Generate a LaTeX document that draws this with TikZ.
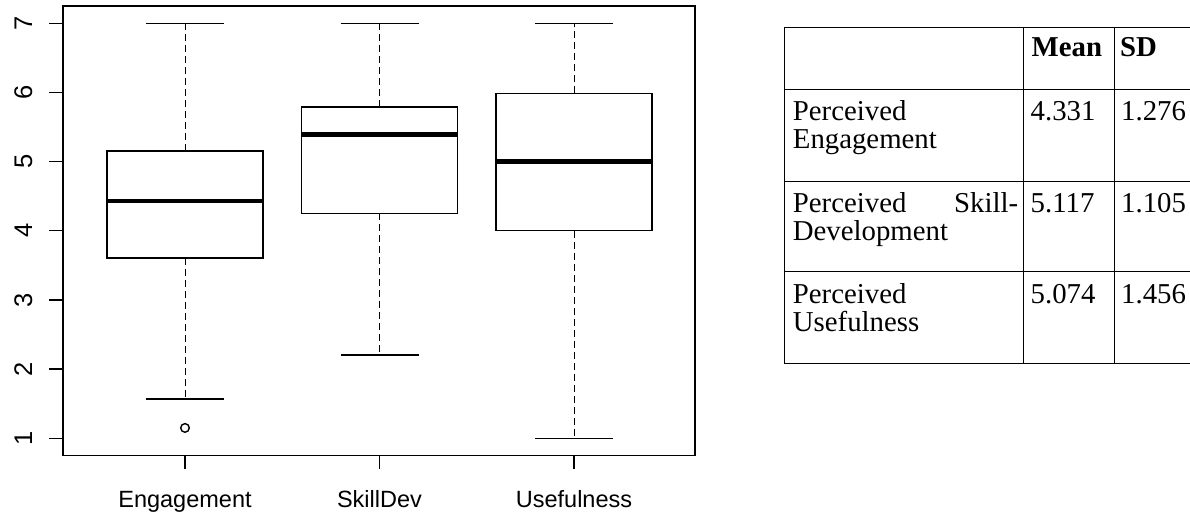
\documentclass[tikz,border=0pt]{standalone}
\usepackage{fontspec}
\newfontfamily\plotfont{Liberation Sans}
\newfontfamily\tabfont{Liberation Serif}
\tikzstyle{frame} = [line width=1.3pt]
\tikzstyle{iqrbox} = [line width=1.4pt]
\tikzstyle{median} = [line width=4.6pt]
\tikzstyle{whisker} = [line width=1pt, dash pattern=on 7pt off 4pt]
\tikzstyle{whiskerend} = [line width=1.3pt]
\tikzstyle{axislabel} = [font=\plotfont\fontsize{23.5}{28}\selectfont, inner sep=0pt]
\tikzstyle{ticklabel} = [font=\plotfont\fontsize{25.5}{28}\selectfont, inner sep=0pt, rotate=90, anchor=base]
\tikzstyle{tableline} = [line width=1pt]
\tikzstyle{cell} = [font=\tabfont\fontsize{28.8}{30}\selectfont, anchor=base west, inner sep=0pt]
\begin{document}
\begin{tikzpicture}[x=1pt, y=-1pt]
            \useasboundingbox (0,0) rectangle (1190,516);
            % plot frame and x axis (pixel units)
            \draw [frame] (63,6) rectangle (695,455.5);
            \draw [frame] (185,455.5) -- (185,469);
            \draw [frame] (379.5,455.5) -- (379.5,469);
            \draw [frame] (574,455.5) -- (574,469);
            \node [axislabel, anchor=base] at (185,507.3) (xeng) {Engagement};
            \node [axislabel, anchor=base] at (379.5,507.3) (xskill) {SkillDev};
            \node [axislabel, anchor=base] at (574,507.3) (xuse) {Usefulness};
            % data (value units)
            \begin{scope}[shift={(0,507.47)}, y=69.17pt]
            \draw [frame] (49,1) -- (63,1);
            \draw [frame] (49,2) -- (63,2);
            \draw [frame] (49,3) -- (63,3);
            \draw [frame] (49,4) -- (63,4);
            \draw [frame] (49,5) -- (63,5);
            \draw [frame] (49,6) -- (63,6);
            \draw [frame] (49,7) -- (63,7);
            \node [ticklabel] at (32,1) (y1) {1};
            \node [ticklabel] at (32,2) (y2) {2};
            \node [ticklabel] at (32,3) (y3) {3};
            \node [ticklabel] at (32,4) (y4) {4};
            \node [ticklabel] at (32,5) (y5) {5};
            \node [ticklabel] at (32,6) (y6) {6};
            \node [ticklabel] at (32,7) (y7) {7};
            % Engagement
            \draw [whisker] (185,5.154) -- (185,7);
            \draw [whisker] (185,3.607) -- (185,1.57);
            \draw [whiskerend] (146,7) -- (224,7);
            \draw [whiskerend] (146,1.57) -- (224,1.57);
            \draw [iqrbox] (107,3.607) rectangle (263,5.154);
            \draw [median] (107,4.431) -- (263,4.431);
            \draw [iqrbox] (185,1.15) circle (4.3pt);
            % SkillDev
            \draw [whisker] (379.5,5.79) -- (379.5,7);
            \draw [whisker] (379.5,4.253) -- (379.5,2.204);
            \draw [whiskerend] (340.5,7) -- (418.5,7);
            \draw [whiskerend] (340.5,2.204) -- (418.5,2.204);
            \draw [iqrbox] (301.5,4.253) rectangle (457.5,5.79);
            \draw [median] (301.5,5.395) -- (457.5,5.395);
            % Usefulness
            \draw [whisker] (574,5.988) -- (574,7);
            \draw [whisker] (574,4) -- (574,1);
            \draw [whiskerend] (535,7) -- (613,7);
            \draw [whiskerend] (535,1) -- (613,1);
            \draw [iqrbox] (496,4) rectangle (652,5.988);
            \draw [median] (496,5) -- (652,5);
            \end{scope}
            % table
            \draw [tableline] (784.3,27.3) -- (1190,27.3);
            \draw [tableline] (784.3,89.3) -- (1190,89.3);
            \draw [tableline] (784.3,181) -- (1190,181);
            \draw [tableline] (784.3,271.7) -- (1190,271.7);
            \draw [tableline] (784.3,363.3) -- (1190,363.3);
            \draw [tableline] (784.3,27.3) -- (784.3,363.3);
            \draw [tableline] (1023.3,27.3) -- (1023.3,363.3);
            \draw [tableline] (1114.3,27.3) -- (1114.3,363.3);
            \node [cell] at (1031.5,57) (hdmean) {\bfseries Mean};
            \node [cell] at (1120,57) (hdsd) {\bfseries SD};
            \node [cell] at (792.7,121) (eng1) {Perceived};
            \node [cell] at (792.7,148.3) (eng2) {Engagement};
            \node [cell] at (1030.5,121) (engmean) {4.331};
            \node [cell] at (1121,121) (engsd) {1.276};
            \node [cell] at (792.7,212.7) (ski1) {Perceived};
            \node [cell, anchor=base east] at (1018.3,212.7) (ski1b) {Skill-};
            \node [cell] at (792.7,240) (ski2) {Development};
            \node [cell] at (1030.5,212.7) (skimean) {5.117};
            \node [cell] at (1121,212.7) (skisd) {1.105};
            \node [cell] at (792.7,303.4) (use1) {Perceived};
            \node [cell] at (792.7,331.7) (use2) {Usefulness};
            \node [cell] at (1030.5,303.4) (usemean) {5.074};
            \node [cell] at (1121,303.4) (usesd) {1.456};
\end{tikzpicture}
\end{document}
